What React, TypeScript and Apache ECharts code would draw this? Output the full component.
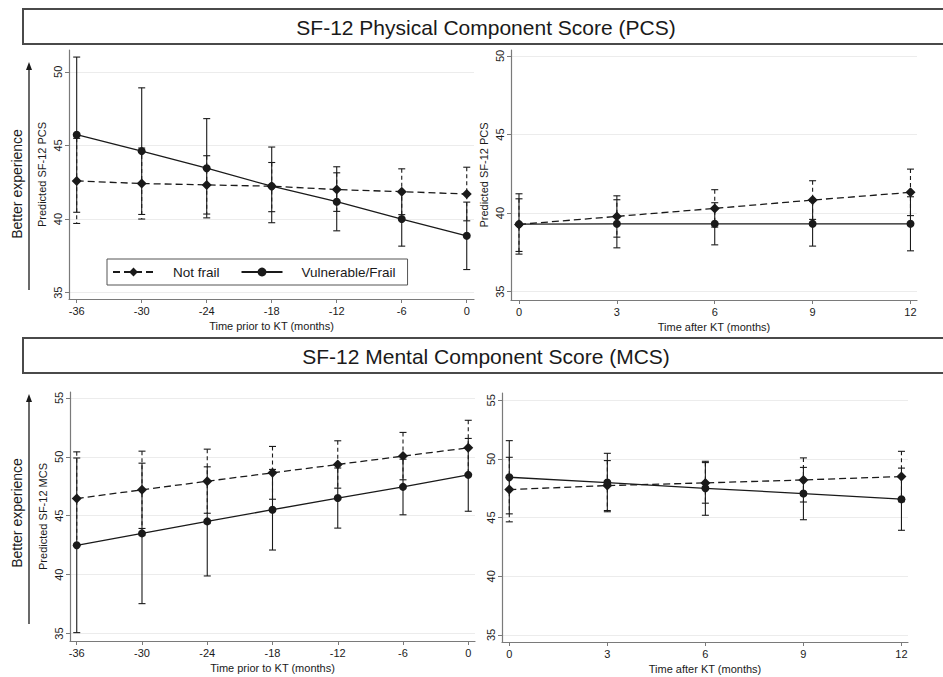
import React, { useEffect, useRef } from "react";
import * as echarts from "echarts";

const preMonths = [-36, -30, -24, -18, -12, -6, 0];
const postMonths = [0, 3, 6, 9, 12];
const pcsTicks = [35, 40, 45, 50];
const mcsTicks = [35, 40, 45, 50, 55];

// PCS before KT
const pcsPreNotFrail = [42.59, 42.41, 42.32, 42.23, 42.0, 41.86, 41.7];
const pcsPreNotFrailLo = [39.7, 40.0, 40.34, 40.5, 40.52, 40.3, 39.88];
const pcsPreNotFrailHi = [45.48, 44.82, 44.3, 43.84, 43.14, 43.41, 43.52];
const pcsPreFrail = [45.73, 44.61, 43.45, 42.23, 41.18, 40.0, 38.86];
const pcsPreFrailLo = [40.46, 40.31, 40.08, 39.75, 39.2, 38.16, 36.57];
const pcsPreFrailHi = [51.0, 48.91, 46.82, 44.89, 43.55, 41.84, 41.15];

// PCS after KT
const pcsPostNotFrail = [39.28, 39.79, 40.3, 40.83, 41.32];
const pcsPostNotFrailLo = [37.56, 38.47, 39.11, 39.6, 39.84];
const pcsPostNotFrailHi = [40.91, 41.1, 41.49, 42.06, 42.8];
const pcsPostFrail = [39.3, 39.32, 39.32, 39.32, 39.32];
const pcsPostFrailLo = [37.39, 37.79, 37.98, 37.9, 37.6];
const pcsPostFrailHi = [41.23, 40.85, 40.66, 40.74, 41.04];

// MCS before KT
const mcsPreNotFrail = [46.46, 47.2, 47.93, 48.64, 49.35, 50.06, 50.76];
const mcsPreNotFrailLo = [42.5, 43.92, 45.21, 46.4, 47.34, 48.05, 48.42];
const mcsPreNotFrailHi = [50.42, 50.48, 50.65, 50.88, 51.36, 52.07, 53.1];
const mcsPreFrail = [42.49, 43.5, 44.52, 45.51, 46.5, 47.45, 48.47];
const mcsPreFrailLo = [35.08, 37.54, 39.89, 42.09, 43.95, 45.08, 45.38];
const mcsPreFrailHi = [49.9, 49.46, 49.15, 48.93, 49.05, 49.8, 51.56];

// MCS after KT
const mcsPostNotFrail = [47.39, 47.73, 47.96, 48.21, 48.5];
const mcsPostNotFrailLo = [44.64, 45.6, 46.23, 46.33, 46.35];
const mcsPostNotFrailHi = [50.14, 49.86, 49.69, 50.09, 50.65];
const mcsPostFrail = [48.44, 47.99, 47.5, 47.05, 46.57];
const mcsPostFrailLo = [45.32, 45.5, 45.2, 44.82, 43.92];
const mcsPostFrailHi = [51.56, 50.48, 49.8, 49.28, 49.22];

const FONT = "'Liberation Sans', Arial, Helvetica, sans-serif";
const INK = "#1a1a1a";
const AXIS = "#7a7a7a";

function errorSeries(name: string, idx: number, xs: number[], lo: number[], hi: number[], dashed: boolean) {
  return {
    type: "custom",
    name,
    xAxisIndex: idx,
    yAxisIndex: idx,
    silent: true,
    z: 2,
    data: xs.map((x, i) => [x, lo[i], hi[i]]),
    encode: { x: 0, y: [1, 2] },
    renderItem: (params: any, api: any) => {
      const x = api.value(0);
      const top = api.coord([x, api.value(2)]);
      const bot = api.coord([x, api.value(1)]);
      const w = 3.5;
      const solid = { stroke: INK, lineWidth: 1.1 };
      const body = dashed ? { stroke: INK, lineWidth: 1.1, lineDash: [4, 3] } : solid;
      return {
        type: "group",
        children: [
          { type: "line", shape: { x1: top[0], y1: top[1], x2: bot[0], y2: bot[1] }, style: body },
          { type: "line", shape: { x1: top[0] - w, y1: top[1], x2: top[0] + w, y2: top[1] }, style: solid },
          { type: "line", shape: { x1: bot[0] - w, y1: bot[1], x2: bot[0] + w, y2: bot[1] }, style: solid },
        ],
      };
    },
  };
}

function lineSeries(name: string, idx: number, xs: number[], ys: number[], dashed: boolean) {
  return {
    type: "line",
    name,
    xAxisIndex: idx,
    yAxisIndex: idx,
    z: 3,
    data: xs.map((x, i) => [x, ys[i]]),
    symbol: dashed ? "diamond" : "circle",
    symbolSize: dashed ? 10 : 8,
    showSymbol: true,
    itemStyle: { color: INK, borderWidth: 0 },
    lineStyle: { color: INK, width: 1.3, type: dashed ? [7, 4] : "solid" },
  };
}

function xAxisCfg(idx: number, min: number, max: number, ticks: number[], name: string) {
  return {
    type: "value",
    gridIndex: idx,
    min,
    max,
    name,
    nameLocation: "middle",
    nameGap: 21,
    nameTextStyle: { fontFamily: FONT, fontSize: 11, color: INK },
    axisLine: { show: true, onZero: false, lineStyle: { color: AXIS, width: 1.2 } },
    axisTick: { show: true, customValues: ticks, length: 4, inside: false, lineStyle: { color: AXIS } },
    axisLabel: { customValues: ticks, fontFamily: FONT, fontSize: 11, color: INK, margin: 6 },
    splitLine: { show: false },
  };
}

function yAxisCfg(idx: number, min: number, max: number, ticks: number[], name: string) {
  return {
    type: "value",
    gridIndex: idx,
    min,
    max,
    name,
    nameLocation: "middle",
    nameRotate: 90,
    nameGap: 22,
    nameTextStyle: { fontFamily: FONT, fontSize: 11, color: INK },
    axisLine: { show: true, onZero: false, lineStyle: { color: AXIS, width: 1.2 } },
    axisTick: { show: true, customValues: ticks, length: 4, lineStyle: { color: AXIS } },
    axisLabel: { customValues: ticks, rotate: 90, fontFamily: FONT, fontSize: 11, color: INK, margin: 6 },
    splitLine: { show: true, lineStyle: { color: "#ececec", width: 1 } },
  };
}

function betterExperience(cy: number, y1: number, y2: number) {
  return [
    {
      type: "text",
      x: 17,
      y: cy,
      rotation: Math.PI / 2,
      style: { text: "Better experience", fontFamily: FONT, fontSize: 14, fill: INK, align: "center", verticalAlign: "middle" },
    },
    { type: "line", shape: { x1: 29, y1: y2, x2: 29, y2: y1 + 6 }, style: { stroke: INK, lineWidth: 1.3 } },
    { type: "polygon", shape: { points: [[29, y1], [26, y1 + 8], [32, y1 + 8]] }, style: { fill: INK } },
  ];
}

function titleBox(top: number, text: string) {
  return [
    { type: "rect", shape: { x: 23, y: top, width: 930, height: 35 }, style: { fill: "#fff", stroke: "#4a4a4a", lineWidth: 2 } },
    {
      type: "text",
      x: 486,
      y: top + 18,
      style: { text, fontFamily: FONT, fontSize: 21, fill: INK, align: "center", verticalAlign: "middle" },
    },
  ];
}

export default function App() {
  const ref = useRef<HTMLDivElement>(null);
  useEffect(() => {
    if (!ref.current) return;
    const chart = echarts.init(ref.current, null, { renderer: "svg" });
    const option: any = {
      animation: false,
      backgroundColor: "#ffffff",
      textStyle: { fontFamily: FONT },
      grid: [
        { left: 69, top: 50, width: 405, height: 249 },
        { left: 511, top: 50, width: 406, height: 250 },
        { left: 70, top: 392, width: 405, height: 249 },
        { left: 502, top: 393, width: 406, height: 249 },
      ],
      xAxis: [
        xAxisCfg(0, -36.71, 0.67, preMonths, "Time prior to KT (months)"),
        xAxisCfg(1, -0.245, 12.2, postMonths, "Time after KT (months)"),
        xAxisCfg(2, -36.62, 0.62, preMonths, "Time prior to KT (months)"),
        xAxisCfg(3, -0.223, 12.2, postMonths, "Time after KT (months)"),
      ],
      yAxis: [
        yAxisCfg(0, 34.57, 51.48, pcsTicks, "Predicted SF-12 PCS"),
        yAxisCfg(1, 34.47, 50.38, pcsTicks, "Predicted SF-12 PCS"),
        yAxisCfg(2, 34.37, 55.5, mcsTicks, "Predicted SF-12 MCS"),
        yAxisCfg(3, 34.4, 55.62, mcsTicks, ""),
      ],
      legend: {
        show: true,
        left: 107,
        top: 259,
        orient: "horizontal",
        data: ["Not frail", "Vulnerable/Frail"],
        borderColor: "#555",
        borderWidth: 1,
        backgroundColor: "#fff",
        padding: [6, 12, 6, 5],
        itemWidth: 41,
        itemHeight: 11,
        itemGap: 21,
        textStyle: { fontFamily: FONT, fontSize: 13.5, color: INK, padding: [0, 0, 0, 14] },
        selectedMode: false,
      },
      graphic: [
        ...titleBox(9, "SF-12 Physical Component Score (PCS)"),
        ...titleBox(338, "SF-12 Mental Component Score (MCS)"),
        ...betterExperience(184, 62, 290),
        ...betterExperience(513, 394, 624),
      ],
      series: [
        errorSeries("nf-ci-0", 0, preMonths, pcsPreNotFrailLo, pcsPreNotFrailHi, true),
        errorSeries("vf-ci-0", 0, preMonths, pcsPreFrailLo, pcsPreFrailHi, false),
        lineSeries("Not frail", 0, preMonths, pcsPreNotFrail, true),
        lineSeries("Vulnerable/Frail", 0, preMonths, pcsPreFrail, false),

        errorSeries("nf-ci-1", 1, postMonths, pcsPostNotFrailLo, pcsPostNotFrailHi, true),
        errorSeries("vf-ci-1", 1, postMonths, pcsPostFrailLo, pcsPostFrailHi, false),
        lineSeries("Not frail", 1, postMonths, pcsPostNotFrail, true),
        lineSeries("Vulnerable/Frail", 1, postMonths, pcsPostFrail, false),

        errorSeries("nf-ci-2", 2, preMonths, mcsPreNotFrailLo, mcsPreNotFrailHi, true),
        errorSeries("vf-ci-2", 2, preMonths, mcsPreFrailLo, mcsPreFrailHi, false),
        lineSeries("Not frail", 2, preMonths, mcsPreNotFrail, true),
        lineSeries("Vulnerable/Frail", 2, preMonths, mcsPreFrail, false),

        errorSeries("nf-ci-3", 3, postMonths, mcsPostNotFrailLo, mcsPostNotFrailHi, true),
        errorSeries("vf-ci-3", 3, postMonths, mcsPostFrailLo, mcsPostFrailHi, false),
        lineSeries("Not frail", 3, postMonths, mcsPostNotFrail, true),
        lineSeries("Vulnerable/Frail", 3, postMonths, mcsPostFrail, false),
      ],
    };
    chart.setOption(option);
    return () => chart.dispose();
  }, []);
  return (
    <div
      ref={ref}
      style={{ position: "fixed", left: 0, top: 0, width: 943, height: 677, background: "#fff" }}
    />
  );
}
